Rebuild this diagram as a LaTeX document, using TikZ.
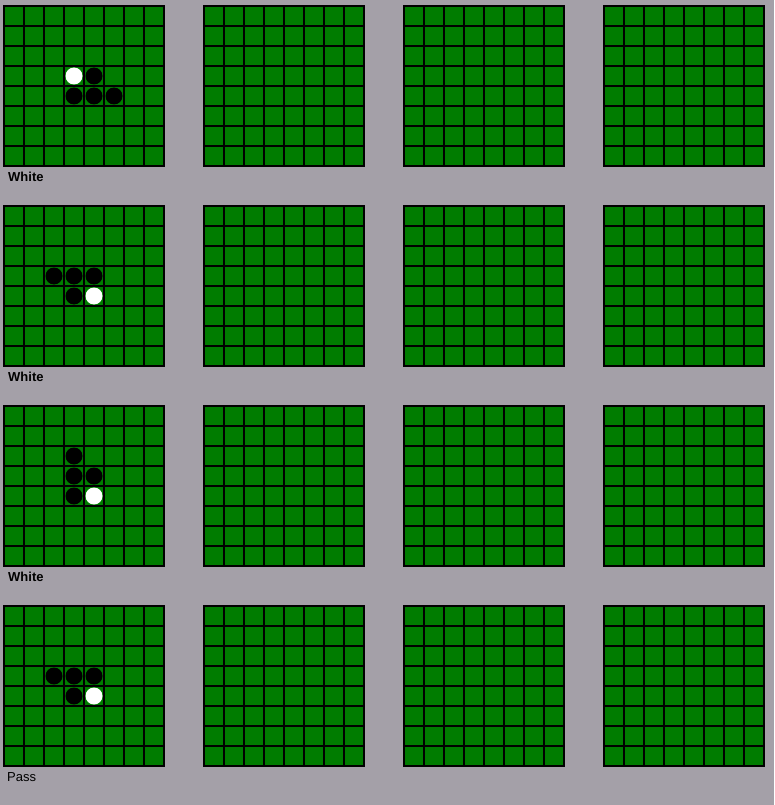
\documentclass[tikz,border=0pt]{standalone}
\usepackage{fontspec}
\setmainfont{Liberation Sans}
\definecolor{bgGray}{RGB}{164,160,168}
\definecolor{boardGreen}{RGB}{0,124,0}
\tikzset{
  gridline/.style={draw=black,line width=2.2pt,line cap=rect},
  disc/.style={circle,minimum size=17pt,inner sep=0pt},
  blk/.style={disc,fill=black},
  wht/.style={disc,fill=white},
  caption/.style={anchor=west,inner sep=0pt,font=\fontsize{13}{15}\selectfont}
}

\begin{document}
\begin{tikzpicture}[x=1pt,y=-1pt]
  \fill[bgGray] (0,0) rectangle (774,805);
  \useasboundingbox (0,0) rectangle (774,805);

  % sixteen empty boards
  \foreach \bx in {0,...,3}
    \foreach \by in {0,...,3} {
      \begin{scope}[shift={(4+200*\bx,6+200*\by)}]
        \fill[boardGreen] (0,0) rectangle (160,160);
        \foreach \k in {0,20,...,160} {
          \draw[gridline] (\k,0) -- (\k,160);
          \draw[gridline] (0,\k) -- (160,\k);
        }
      \end{scope}
    }

  % discs, first column only
  \foreach \by/\blist/\wlist in {
      0/{4/3,3/4,4/4,5/4}/{3/3},
      1/{2/3,3/3,4/3,3/4}/{4/4},
      2/{3/2,3/3,4/3,3/4}/{4/4},
      3/{2/3,3/3,4/3,3/4}/{4/4}} {
    \begin{scope}[shift={(4,6+200*\by)}]
      \foreach \c/\r in \blist
        \node[blk] (b\by-\c-\r) at (20*\c+10,20*\r+10) {};
      \foreach \c/\r in \wlist
        \node[wht] (w\by-\c-\r) at (20*\c+10,20*\r+10) {};
    \end{scope}
  }

  % move captions
  \node[caption,font=\fontsize{13}{15}\selectfont\bfseries] (cap0) at (8,177) {White};
  \node[caption,font=\fontsize{13}{15}\selectfont\bfseries] (cap1) at (8,377) {White};
  \node[caption,font=\fontsize{13}{15}\selectfont\bfseries] (cap2) at (8,577) {White};
  \node[caption] (cap3) at (7,777) {Pass};
\end{tikzpicture}
\end{document}
